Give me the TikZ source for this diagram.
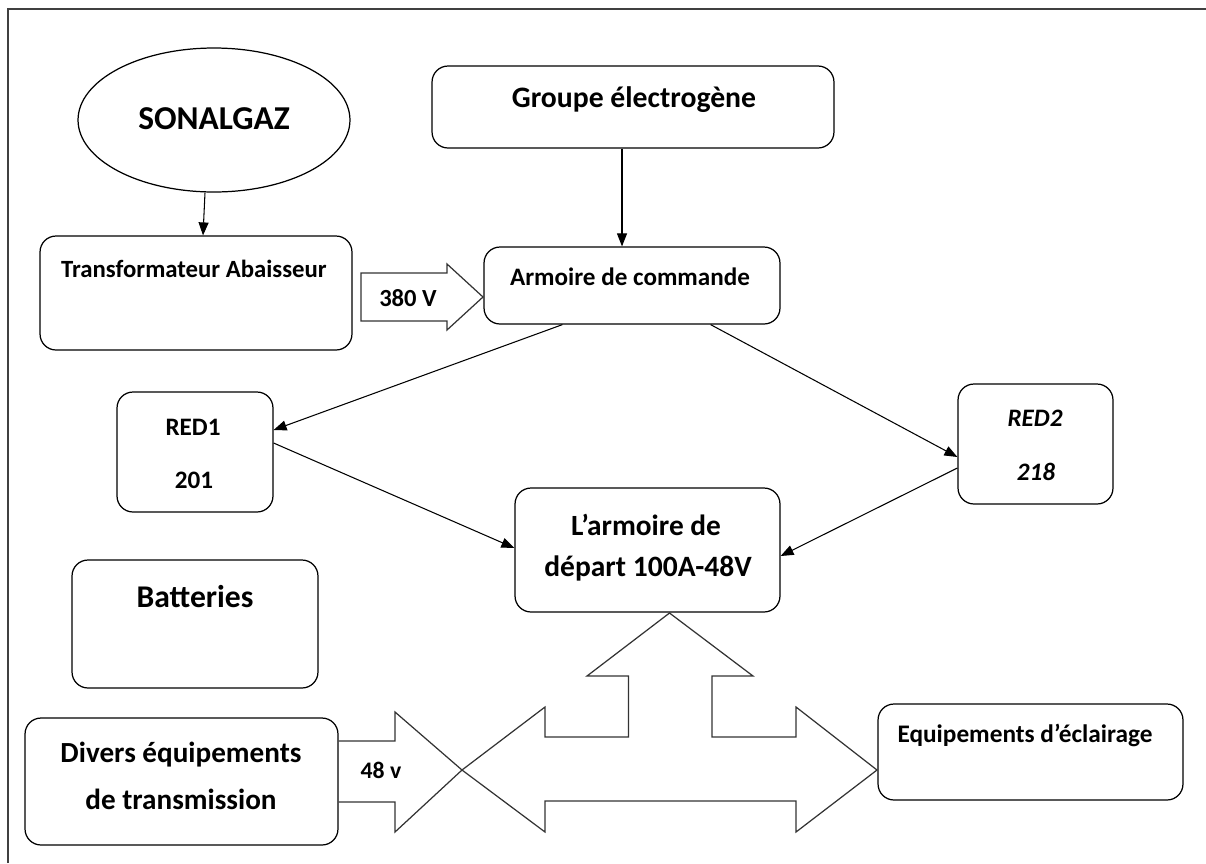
\documentclass[tikz,border=0pt]{standalone}
\usepackage{fontspec}
\setmainfont{Carlito}
\usetikzlibrary{shapes.geometric,arrows.meta}
\tikzset{
  box/.style={draw=black, line width=0.7pt, rounded corners=0.32cm, inner sep=0pt},
  lbl/.style={inner sep=0pt, font=\bfseries},
  conn/.style={draw=black, line width=0.6pt, -{Triangle[length=0.26cm,width=0.2cm]}},
  blockarrow/.style={draw=black!80, line width=0.7pt, line join=miter},
}
\newcommand{\fs}[1]{\fontsize{#1}{#1}\selectfont}
\begin{document}
\begin{tikzpicture}[x=0.02cm,y=-0.02cm]
\useasboundingbox (0,0) rectangle (1206,863);
% frame
\draw[black!75, line width=0.9pt] (8,863) -- (8,9) -- (1206,9);
% nodes
\node[box, ellipse, rounded corners=0pt, minimum width=5.44cm, minimum height=2.88cm] (sonal) at (214,120) {};
\node[box, minimum width=8.04cm, minimum height=1.64cm] (grp) at (633,107) {};
\node[box, minimum width=6.24cm, minimum height=2.28cm] (trans) at (196,293) {};
\node[box, minimum width=5.92cm, minimum height=1.54cm] (armc) at (632,285.5) {};
\node[box, minimum width=3.12cm, minimum height=2.4cm] (red1) at (195,452) {};
\node[box, minimum width=3.1cm, minimum height=2.4cm] (red2) at (1035.5,444) {};
\node[box, minimum width=5.3cm, minimum height=2.48cm] (dep) at (647.5,550) {};
\node[box, minimum width=4.92cm, minimum height=2.56cm] (bat) at (195,624) {};
\node[box, minimum width=6.26cm, minimum height=2.54cm] (div) at (181.5,781.5) {};
\node[box, minimum width=6.1cm, minimum height=1.92cm] (ecl) at (1030.5,752) {};
% texts
\node[lbl, font=\bfseries\fs{19}] (tsonal) at (214,119) {SONALGAZ};
\node[lbl, font=\bfseries\fs{16.9}] (tgrp) at (634,100) {Groupe électrogène};
\node[lbl, font=\bfseries\fs{14.1}] (ttrans) at (194,269) {Transformateur Abaisseur};
\node[lbl, font=\bfseries\fs{14.3}] (tarmc) at (630,277) {Armoire de commande};
\node[lbl, font=\bfseries\fs{14}] (t380) at (408,298) {380 V};
\node[lbl, font=\bfseries\fs{14.3}] (tred1a) at (193,427) {RED1};
\node[lbl, font=\bfseries\fs{14.3}] (tred1b) at (194,480) {201};
\node[lbl, font=\bfseries\itshape\fs{14.3}] (tred2a) at (1035,418) {RED2};
\node[lbl, font=\bfseries\itshape\fs{14.3}] (tred2b) at (1036,472) {218};
\node[lbl, font=\bfseries\fs{16.7}] (tdepa) at (646,525) {L’armoire de};
\node[lbl, font=\bfseries\fs{16.8}] (tdepb) at (648,568) {départ 100A-48V};
\node[lbl, font=\bfseries\fs{18}] (tbat) at (195,597) {Batteries};
\node[lbl, font=\bfseries\fs{16.6}] (tdiva) at (181,755) {Divers équipements};
\node[lbl, font=\bfseries\fs{16.6}] (tdivb) at (181,799) {de transmission};
\node[lbl, font=\bfseries\fs{14.4}] (tecl) at (1025,735) {Equipements d’éclairage};
\node[lbl, font=\bfseries\fs{13.5}] (t48) at (381,770) {48 v};
% connectors
\draw[conn] ([xshift=-0.18cm]sonal.south) -- ([xshift=0.14cm]trans.north);
\draw[conn] ([xshift=-0.22cm]grp.south) -- ([xshift=-0.2cm]armc.north);
\draw[conn] ([xshift=1.58cm]armc.south west) -- ([yshift=0.44cm]red1.east);
\draw[conn] ([xshift=-1.4cm]armc.south east) -- ([yshift=-0.26cm]red2.west);
\draw[conn] ([yshift=0.18cm]red1.east) -- ([yshift=0.04cm]dep.west);
\draw[conn] ([yshift=-0.48cm]red2.west) -- ([yshift=-0.12cm]dep.east);
% block arrows
\draw[blockarrow] (361,273) -- (447,273) -- (447,264) -- (483,297) -- (447,330) -- (447,321) -- (361,321) -- cycle;
\draw[blockarrow] (div.east |- 0,741) -- (395,741) -- (395,712) -- (462,770) -- (395,832) -- (395,802) -- (div.east |- 0,802);
\draw[blockarrow] (462,770) -- (545,707) -- (545,737) -- (628.5,737) -- (628.5,676) -- (587,676) -- (669.5,613) -- (753,676) -- (712,676) -- (712,737) -- (796,737) -- (796,707) -- (877,770) -- (796,832) -- (796,801) -- (545,801) -- (545,832) -- cycle;
\end{tikzpicture}
\end{document}
